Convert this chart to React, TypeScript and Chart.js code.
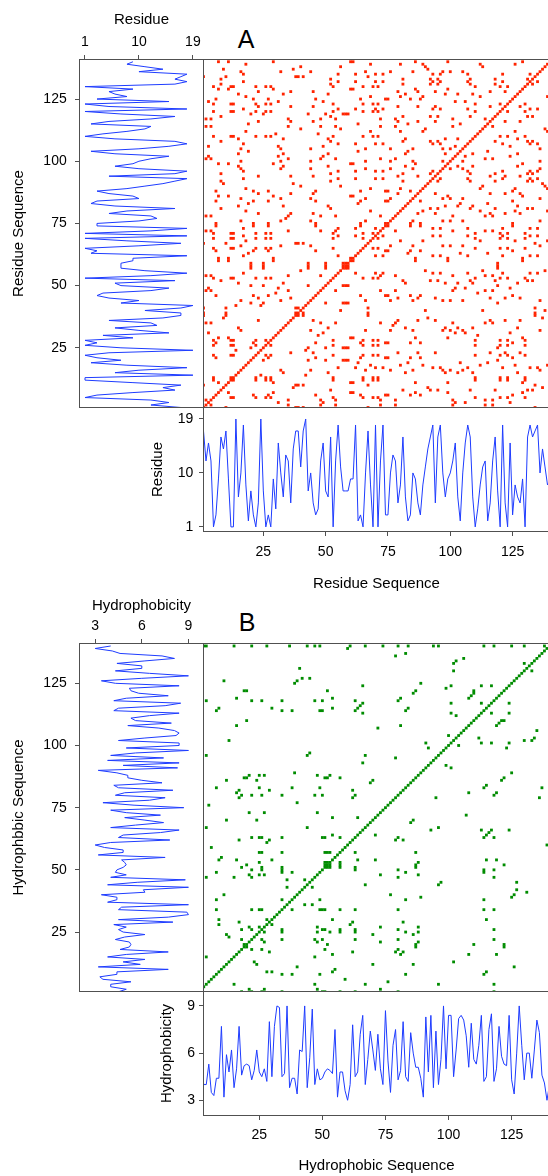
import { useEffect, useRef } from "react";
import { Chart, registerables } from "chart.js";

Chart.register(...registerables);

// residue index (1-19) along the sequence
const residueSeq = [
  17, 12, 15, 12, 1, 3, 9, 16, 14, 17, 9, 1, 1, 19, 6, 10, 18, 8, 2, 7, 3, 1, 5, 19, 7, 1, 3, 1, 9, 4, 15, 10, 6, 13,
  12, 5, 14, 17, 17, 11, 17, 19, 7, 10, 5, 3, 4, 12, 15, 7, 6, 16, 1, 12, 18, 11, 7, 7, 7, 9, 9, 18, 2, 3, 1, 10,
  17, 8, 1, 18, 1, 12, 18, 3, 3, 10, 13, 12, 5, 8, 16, 6, 2, 3, 10, 9, 5, 3, 8, 11, 14, 16, 18, 5, 16, 18, 10, 6,
  9, 10, 12, 15, 6, 2, 10, 15, 18, 16, 6, 1, 4, 8, 11, 12, 2, 5, 12, 16, 7, 1, 18, 5, 1, 15, 3, 8, 6, 5, 9, 1, 16,
  18, 16, 17, 18, 10, 14, 11, 8, 9,
];

// hydrophobicity along the sequence
const hydroSeq = [
  4.5, 5.0, 4.0, 4.0, 5.3, 3.5, 3.3, 4.4, 4.4, 7.7, 3.2, 5.9, 4.8, 6.2, 3.8, 5.0, 7.7, 4.6, 5.2, 5.3, 5.2, 4.3, 4.9,
  6.2, 4.8, 4.5, 5.0, 4.2, 8.0, 4.5, 7.7, 9.0, 8.9, 4.5, 4.7, 9.0, 3.8, 4.4, 4.4, 3.4, 6.2, 6.1, 9.0, 3.8, 5.7, 8.8,
  4.0, 5.0, 4.3, 4.4, 4.8, 5.0, 4.9, 4.7, 7.5, 3.2, 4.8, 4.8, 3.6, 3.0, 4.0, 7.8, 4.5, 4.8, 7.2, 8.4, 4.0, 5.6, 7.4,
  6.2, 4.9, 7.2, 5.0, 4.0, 8.7, 5.5, 3.5, 6.5, 7.5, 4.3, 4.9, 8.0, 4.5, 4.2, 7.3, 6.0, 5.1, 5.1, 4.4, 3.2, 8.3, 4.8,
  8.4, 3.8, 7.4, 4.0, 5.6, 9.0, 5.0, 8.4, 8.4, 4.5, 6.2, 8.2, 8.4, 8.1, 7.1, 5.1, 7.9, 5.6, 5.3, 6.5, 8.4, 4.2, 4.5,
  7.5, 8.5, 4.2, 5.0, 7.7, 5.8, 5.3, 5.2, 8.4, 4.3, 3.4, 6.0, 9.0, 6.5, 4.3, 6.0, 6.0, 4.4, 6.2, 8.1, 7.3, 4.6, 4.1,
  3.0, 4.0,
];

const seqTicks = [25, 50, 75, 100, 125];
const residueTicks = [1, 10, 19];
const hydroTicks = [3, 6, 9];

// closeness used for the hydrophobic recurrence (two consecutive values)
const HYDRO_EPS = 0.3;

const FONT = '"Liberation Sans", Arial, sans-serif';
const BLUE = "#1e3cff";
const RED = "#ff2400";
const GREEN = "#008c00";
const FRAME = "#505050";

Chart.defaults.font.family = FONT;

const framePlugin = {
  id: "frame",
  afterDraw(chart: any) {
    const { ctx, chartArea: a } = chart;
    ctx.save();
    ctx.strokeStyle = FRAME;
    ctx.lineWidth = 1;
    ctx.strokeRect(a.left + 0.5, a.top + 0.5, a.right - a.left - 1, a.bottom - a.top - 1);
    ctx.restore();
  },
};

function recurrence(seq: number[], match: (i: number, j: number) => boolean) {
  const pts: { x: number; y: number }[] = [];
  for (let i = 0; i < seq.length; i++) {
    for (let j = 0; j < seq.length; j++) {
      if (match(i, j)) pts.push({ x: i + 1, y: j + 1 });
    }
  }
  return pts;
}

const near = (a: number, b: number) => Math.abs(a - b) <= HYDRO_EPS;

const residuePoints = recurrence(residueSeq, (i, j) => residueSeq[i] === residueSeq[j]);
const hydroPoints = recurrence(
  hydroSeq,
  (i, j) =>
    near(hydroSeq[i], hydroSeq[j]) &&
    (i + 1 >= hydroSeq.length || j + 1 >= hydroSeq.length || near(hydroSeq[i + 1], hydroSeq[j + 1])),
);

function axis(opts: {
  position: string;
  min: number;
  max: number;
  ticks: number[];
  size: number;
  title: string;
  titlePad: number;
  tickPad: number;
}) {
  const vertical = opts.position === "left";
  const titlePadding = opts.position === "bottom" ? { top: 0, bottom: opts.titlePad } : { top: opts.titlePad, bottom: 0 };
  return {
    type: "linear",
    position: opts.position,
    min: opts.min,
    max: opts.max,
    afterBuildTicks: (s: any) => {
      s.ticks = opts.ticks.map((v) => ({ value: v }));
    },
    afterFit: (s: any) => {
      if (vertical) s.width = opts.size;
      else s.height = opts.size;
      // keep the plot area exactly where it is placed
      s.paddingTop = 0;
      s.paddingBottom = 0;
      s.paddingLeft = 0;
      s.paddingRight = 0;
    },
    grid: { display: true, drawOnChartArea: false, drawTicks: true, tickLength: 4, color: FRAME, lineWidth: 1 },
    border: { display: false },
    ticks: {
      font: { size: 14, family: FONT },
      color: "#000",
      padding: opts.tickPad,
      autoSkip: false,
      maxRotation: 0,
    },
    title: {
      display: true,
      text: opts.title,
      color: "#000",
      font: { size: 15, family: FONT },
      padding: titlePadding,
    },
  };
}

const hidden = (min: number, max: number) => ({ type: "linear", display: false, min, max });

function baseOptions(scales: any) {
  return {
    responsive: false,
    animation: false,
    events: [],
    layout: { padding: 0, autoPadding: false },
    plugins: { legend: { display: false }, tooltip: { enabled: false } },
    scales,
  };
}

function lineDataset(data: { x: number; y: number }[]) {
  return { data, showLine: true, pointRadius: 0, borderColor: BLUE, borderWidth: 1, tension: 0 };
}

function pointDataset(data: { x: number; y: number }[], color: string) {
  return { data, pointStyle: "rect", pointRadius: 2, backgroundColor: color, borderWidth: 0 };
}

function ChartCanvas({ left, top, width, height, config }: any) {
  const ref = useRef<HTMLCanvasElement>(null);
  useEffect(() => {
    const chart = new Chart(ref.current!, { ...config(), plugins: [framePlugin] });
    return () => chart.destroy();
  }, []);
  return (
    <canvas
      ref={ref}
      width={width}
      height={height}
      style={{ position: "absolute", left, top, width, height }}
    />
  );
}

type PanelProps = {
  y0: number;
  seq: number[];
  points: { x: number; y: number }[];
  color: string;
  valTicks: number[];
  leftRange: [number, number];
  bottomRange: [number, number];
  xRange: [number, number];
  yRange: [number, number];
  valTitle: string;
  seqTitleLeft: string;
  seqTitleBottom: string;
  topTickPad: number;
  topTitlePad: number;
  bottomValTickPad: number;
  bottomValTitlePad: number;
  bottomTickPad: number;
  bottomAxisH: number;
  bottomTitlePad: number;
};

function Panel(p: PanelProps) {
  const leftCfg = () => ({
    type: "scatter",
    data: { datasets: [lineDataset(p.seq.map((v, i) => ({ x: v, y: i + 1 })))] },
    options: baseOptions({
      x: axis({
        position: "top",
        min: p.leftRange[0],
        max: p.leftRange[1],
        ticks: p.valTicks,
        size: 59,
        title: p.valTitle,
        titlePad: p.topTitlePad,
        tickPad: p.topTickPad,
      }),
      y: axis({
        position: "left",
        min: p.yRange[0],
        max: p.yRange[1],
        ticks: seqTicks,
        size: 79,
        title: p.seqTitleLeft,
        titlePad: 9.5,
        tickPad: 8.3,
      }),
    }),
  });

  const mainCfg = () => ({
    type: "scatter",
    data: { datasets: [pointDataset(p.points, p.color)] },
    options: baseOptions({ x: hidden(p.xRange[0], p.xRange[1]), y: hidden(p.yRange[0], p.yRange[1]) }),
  });

  const bottomCfg = () => ({
    type: "scatter",
    data: { datasets: [lineDataset(p.seq.map((v, i) => ({ x: i + 1, y: v })))] },
    options: baseOptions({
      x: axis({
        position: "bottom",
        min: p.xRange[0],
        max: p.xRange[1],
        ticks: seqTicks,
        size: p.bottomAxisH,
        title: p.seqTitleBottom,
        titlePad: p.bottomTitlePad,
        tickPad: p.bottomTickPad,
      }),
      y: axis({
        position: "left",
        min: p.bottomRange[0],
        max: p.bottomRange[1],
        ticks: p.valTicks,
        size: 63,
        title: p.valTitle,
        titlePad: p.bottomValTitlePad,
        tickPad: p.bottomValTickPad,
      }),
    }),
  });

  return (
    <>
      <ChartCanvas left={0} top={p.y0 - 59} width={204} height={408} config={leftCfg} />
      <ChartCanvas left={203} top={p.y0} width={347} height={349} config={mainCfg} />
      <ChartCanvas left={140} top={p.y0 + 348} width={410} height={125 + p.bottomAxisH} config={bottomCfg} />
    </>
  );
}

const letterStyle = {
  position: "absolute" as const,
  width: 40,
  marginLeft: -20,
  textAlign: "center" as const,
  fontFamily: FONT,
  fontSize: 25,
  lineHeight: "30px",
  color: "#000",
};

export default function App() {
  return (
    <div
      style={{
        position: "absolute",
        left: 0,
        top: 0,
        width: 548,
        height: 1176,
        overflow: "hidden",
        background: "#fff",
      }}
    >
      <Panel
        y0={59}
        seq={residueSeq}
        points={residuePoints}
        color={RED}
        valTicks={residueTicks}
        leftRange={[0, 20.85]}
        bottomRange={[0.15, 21]}
        xRange={[0.8, 140]}
        yRange={[0.8, 141.1]}
        valTitle="Residue"
        seqTitleLeft="Residue Sequence"
        seqTitleBottom="Residue Sequence"
        topTickPad={4.3}
        topTitlePad={10.5}
        bottomValTickPad={5.7}
        bottomValTitlePad={9.3}
        bottomTickPad={7.3}
        bottomAxisH={62}
        bottomTitlePad={1.3}
      />
      <Panel
        y0={643}
        seq={hydroSeq}
        points={hydroPoints}
        color={GREEN}
        valTicks={hydroTicks}
        leftRange={[1.96, 10]}
        bottomRange={[2, 9.95]}
        xRange={[2.7, 140.2]}
        yRange={[0.9, 141.2]}
        valTitle="Hydrophobicity"
        seqTitleLeft="Hydrophbbic Sequence"
        seqTitleBottom="Hydrophobic Sequence"
        topTickPad={4.9}
        topTitlePad={13}
        bottomValTickPad={4}
        bottomValTitlePad={17.7}
        bottomTickPad={6.6}
        bottomAxisH={60}
        bottomTitlePad={1}
      />
      <div style={{ ...letterStyle, left: 246, top: 24 }}>A</div>
      <div style={{ ...letterStyle, left: 247, top: 607 }}>B</div>
    </div>
  );
}
